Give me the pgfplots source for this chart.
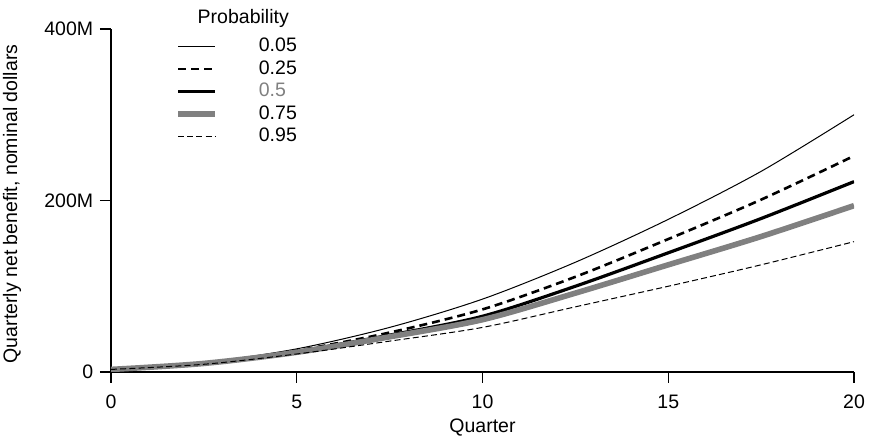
\documentclass[border=0pt]{standalone}
\usepackage{fontspec}
\setmainfont{Liberation Sans}
\usepackage{pgfplots}
\pgfplotsset{compat=1.18}
\definecolor{midgray}{RGB}{128,128,128}

% values in millions of dollars
\pgfplotstableread{
q    p05  p25  p50  p75  p95
0    3    3    3    3    3
2.5  11   10   10   10   9
5    27   25   24   23   21
7.5  52   46   43   41   36
10   85   73   65   61   52
12.5 128  111  100  92   76
15   178  155  139  125  100
17.5 234  201  179  158  125
20   300  252  222  194  152
}\benefit

\begin{document}
\fontsize{9.75}{11.7}\selectfont
\begin{tikzpicture}
\begin{axis}[
  name=ax,
  scale only axis,
  width=371.5pt, height=171.5pt,
  xmin=0, xmax=20, ymin=0, ymax=400,
  clip mode=individual,
  axis x line*=bottom, axis y line*=left,
  axis line style={-, line width=0.6pt},
  tick align=outside, major tick length=5.5pt,
  tick style={line width=0.6pt, black},
  xtick={0,5,10,15,20},
  ytick={0,200,400}, yticklabels={0,200M,400M},
  xticklabel style={yshift=-2.5pt},
  /pgf/number format/assume math mode=true,
  xlabel={Quarter},
  ylabel={Quarterly net benefit, nominal dollars},
  xlabel style={at={(axis description cs:0.5,-0.163)}, anchor=center},
  ylabel style={at={(axis description cs:-0.133,0.49)}, anchor=center},
  legend image code/.code={\draw[#1] (0pt,0pt) -- (18.5pt,0pt);},
  legend style={at={(axis description cs:0.086,0.976)}, anchor=north west,
    draw=none, fill=none, inner sep=0pt, row sep=2.25pt,
    nodes={inner sep=0pt, text height=7pt, text depth=2pt},
    /tikz/every odd column/.append style={column sep=20.5pt}},
  legend cell align=left,
]
\addplot[black, line width=0.5pt, smooth] table[x=q, y=p05] {\benefit};
\addlegendentry{0.05}
\addplot[black, line width=1.3pt, dash pattern=on 4pt off 2.5pt, smooth] table[x=q, y=p25] {\benefit};
\addlegendentry{0.25}
\addplot[black, line width=1.6pt, smooth] table[x=q, y=p50] {\benefit};
\addlegendentry{\textcolor{midgray}{0.5}}
\addplot[midgray, line width=2.8pt, smooth] table[x=q, y=p75] {\benefit};
\addlegendentry{0.75}
\addplot[black, line width=0.5pt, dash pattern=on 3pt off 1.6pt, smooth] table[x=q, y=p95] {\benefit};
\addlegendentry{0.95}
\node[anchor=center] at (axis description cs:0.178,1.032) {Probability};
\end{axis}
\pgfresetboundingbox
\path ([xshift=-55.5pt,yshift=-32.5pt]ax.south west) rectangle ([xshift=8pt,yshift=14.5pt]ax.north east);
\end{tikzpicture}
\end{document}
